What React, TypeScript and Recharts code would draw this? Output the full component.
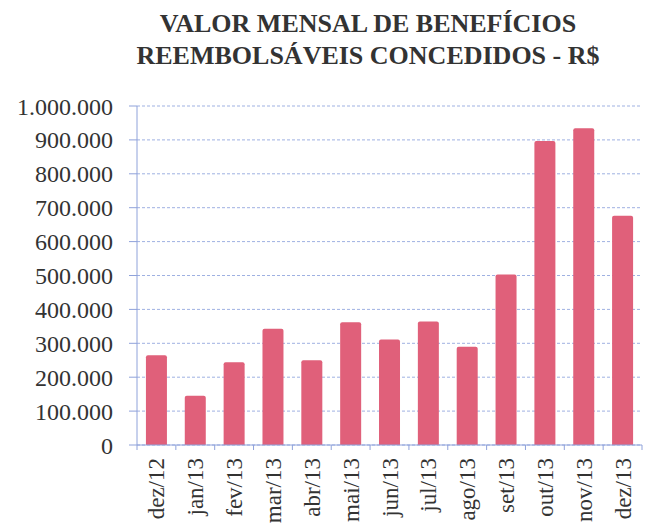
import { BarChart, Bar, XAxis, YAxis, CartesianGrid } from 'recharts';

const months = [
  'dez/12', 'jan/13', 'fev/13', 'mar/13', 'abr/13', 'mai/13', 'jun/13',
  'jul/13', 'ago/13', 'set/13', 'out/13', 'nov/13', 'dez/13',
];
const valores = [
  265000, 145000, 244000, 343000, 250000, 362000, 311000,
  364000, 290000, 503000, 897000, 934000, 676000,
];
const yTicks = [0, 100000, 200000, 300000, 400000, 500000, 600000, 700000, 800000, 900000, 1000000];

const data = months.map((mes, i) => ({ mes, valor: valores[i] }));

const axisBlue = '#8fa2da';
const fontFamily = '"Liberation Serif", "Times New Roman", serif';

const fmt = (v: number) => v.toLocaleString('pt-BR').replace(/,/g, '.');

const MonthTick = (props: any) => {
  const { x, y, payload, index } = props;
  const half = payload.offset || 0;
  const top = y - 13;
  return (
    <g>
      <line x1={x - half} y1={top} x2={x - half} y2={top + 5} stroke={axisBlue} />
      {index === months.length - 1 && (
        <line x1={x + half} y1={top} x2={x + half} y2={top + 5} stroke={axisBlue} />
      )}
      <text
        x={x}
        y={y}
        dy="0.35em"
        transform={`rotate(-90, ${x}, ${y})`}
        textAnchor="end"
        fontSize={23}
        fontFamily={fontFamily}
        fill="#333"
      >
        {payload.value}
      </text>
    </g>
  );
};

export default function App() {
  return (
    <div style={{ position: 'absolute', left: 0, top: 0, width: 650, height: 528, background: '#fff', overflow: 'hidden' }}>
      <div
        style={{
          position: 'absolute',
          left: 0,
          top: 8,
          width: 736,
          textAlign: 'center',
          fontFamily,
          fontWeight: 'bold',
          fontSize: 26,
          lineHeight: '32px',
          color: '#333',
        }}
      >
        VALOR MENSAL DE BENEFÍCIOS
        <br />
        REEMBOLSÁVEIS CONCEDIDOS - R$
      </div>
      <div style={{ position: 'absolute', left: 0, top: 0 }}>
        <BarChart
          width={650}
          height={528}
          data={data}
          margin={{ top: 106, right: 8, bottom: 0, left: 0 }}
          barCategoryGap="23%"
        >
          <CartesianGrid vertical={false} stroke="#9fb1e2" strokeDasharray="3 2" />
          <XAxis
            dataKey="mes"
            height={83}
            interval={0}
            stroke={axisBlue}
            tickLine={false}
            tickSize={5}
            tickMargin={8}
            tick={<MonthTick />}
          />
          <YAxis
            width={137}
            domain={[0, 1000000]}
            ticks={yTicks}
            tickFormatter={fmt}
            stroke={axisBlue}
            tickSize={8}
            tickMargin={16}
            tick={{ fontSize: 24, fontFamily, fill: '#333' }}
          />
          <Bar dataKey="valor" fill="#e0607a" radius={[2, 2, 0, 0]} isAnimationActive={false} />
        </BarChart>
      </div>
    </div>
  );
}
